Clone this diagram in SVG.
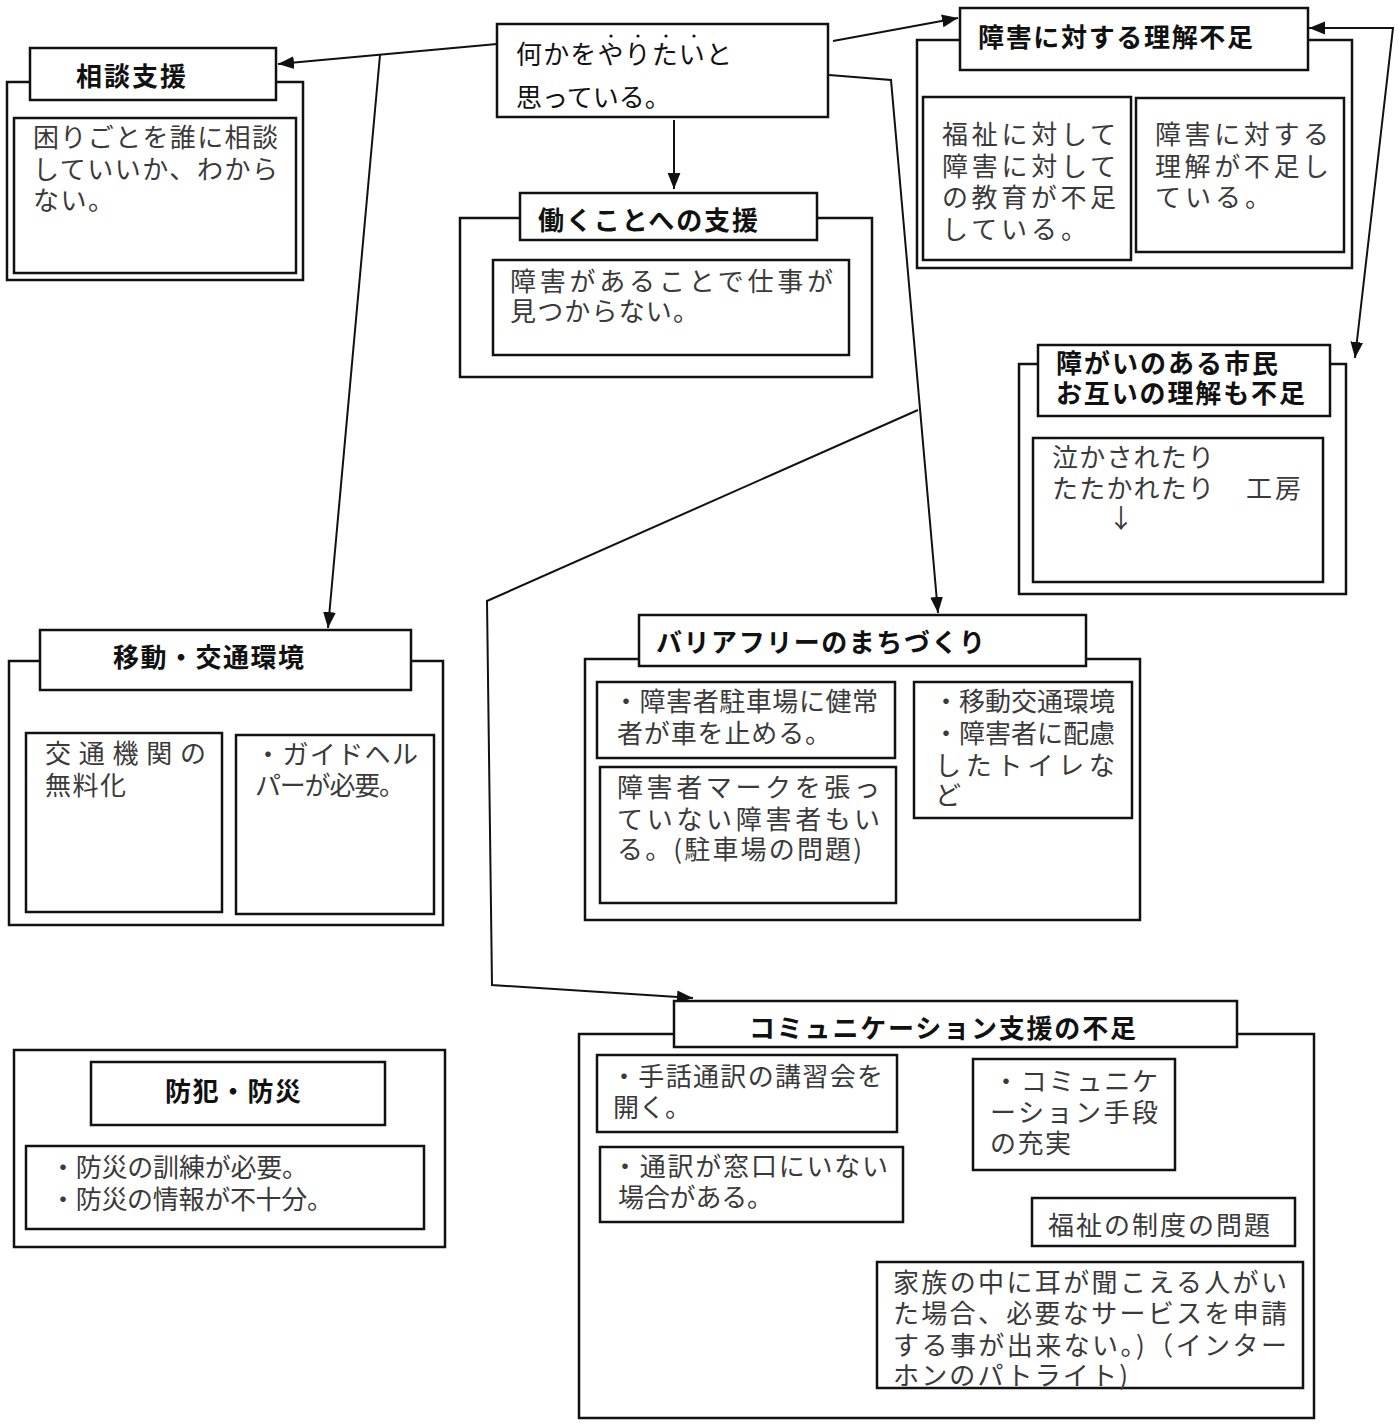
<svg xmlns="http://www.w3.org/2000/svg" width="1399" height="1427" viewBox="0 0 1399 1427">
<style>
.f{fill:#fff;stroke:#111;stroke-width:2.5}
.c{fill:none;stroke:#111;stroke-width:2}
text{font-family:"Noto Sans CJK JP","Noto Sans CJK SC",sans-serif;font-size:26px}
.t{font-weight:bold;fill:#111}
.b{fill:#3a3a3a}
.m{fill:#111}
</style>
<defs>
<marker id="ah" viewBox="0 0 10 10" refX="10" refY="5" markerWidth="9" markerHeight="9" markerUnits="userSpaceOnUse" orient="auto-start-reverse">
<path d="M0,0 L10,5 L0,10 z" fill="#111"/>
</marker>
<marker id="ahL" viewBox="0 0 10 10" refX="10" refY="5" markerWidth="16" markerHeight="16" markerUnits="userSpaceOnUse" orient="auto-start-reverse">
<path d="M0,1 L10,5 L0,9 z" fill="#111"/>
</marker>
</defs>
<rect width="1399" height="1427" fill="#fff"/>

<g id="connectors">
<line class="c" x1="497" y1="44" x2="278" y2="64" marker-end="url(#ahL)"/>
<line class="c" x1="380" y1="55" x2="328" y2="628" marker-end="url(#ahL)"/>
<line class="c" x1="674" y1="120" x2="674" y2="189" marker-end="url(#ahL)"/>
<line class="c" x1="833" y1="41" x2="958" y2="18" marker-end="url(#ahL)"/>
<polyline class="c" points="1309,28 1393,28 1355,358" marker-start="url(#ahL)" marker-end="url(#ahL)"/>
<polyline class="c" points="829,75 891,80 938,613" marker-end="url(#ahL)"/>
<polyline class="c" points="918,410 487,601 492,985 693,998" marker-end="url(#ahL)"/>
<line class="c" x1="1175" y1="1093" x2="1251" y2="1190" marker-end="url(#ahL)"/>
</g>

<g id="node-center">
<rect class="f" x="497" y="24" width="331" height="93"/>
<text class="m" x="516" y="64" textLength="216">何かをやりたいと</text>
<text class="m" x="516" y="107">思っている。</text>
<g fill="#111"><circle cx="611" cy="36" r="1.6"/><circle cx="638" cy="36" r="1.6"/><circle cx="666" cy="36" r="1.6"/><circle cx="694" cy="36" r="1.6"/></g>
</g>

<g id="node-soudan">
<rect class="f" x="7" y="82" width="296" height="198"/>
<rect class="f" x="30" y="48" width="246" height="52"/>
<text class="t" x="76" y="86" textLength="110">相談支援</text>
<rect class="f" x="14" y="118" width="282" height="155"/>
<text class="b" x="33" y="147" textLength="245">困りごとを誰に相談</text>
<text class="b" x="33" y="179" textLength="245">していいか、わから</text>
<text class="b" x="33" y="210" textLength="81">ない。</text>
</g>

<g id="node-hataraku">
<rect class="f" x="460" y="218" width="412" height="159"/>
<rect class="f" x="520" y="193" width="297" height="47"/>
<text class="t" x="538" y="230" textLength="220">働くことへの支援</text>
<rect class="f" x="493" y="260" width="356" height="95"/>
<text class="b" x="510" y="291" textLength="323">障害があることで仕事が</text>
<text class="b" x="510" y="321" textLength="189">見つからない。</text>
</g>

<g id="node-rikai">
<rect class="f" x="917" y="40" width="435" height="228"/>
<rect class="f" x="960" y="8" width="348" height="62"/>
<text class="t" x="978" y="47" textLength="275">障害に対する理解不足</text>
<rect class="f" x="923" y="97" width="208" height="163"/>
<text class="b" x="942" y="144" textLength="174">福祉に対して</text>
<text class="b" x="942" y="176" textLength="174">障害に対して</text>
<text class="b" x="942" y="207" textLength="174">の教育が不足</text>
<text class="b" x="942" y="239" textLength="145">している。</text>
<rect class="f" x="1136" y="98" width="208" height="154"/>
<text class="b" x="1155" y="144" textLength="174">障害に対する</text>
<text class="b" x="1155" y="176" textLength="174">理解が不足し</text>
<text class="b" x="1155" y="207" textLength="116">ている。</text>
</g>

<g id="node-shimin">
<rect class="f" x="1019" y="364" width="327" height="230"/>
<rect class="f" x="1038" y="345" width="292" height="71"/>
<text class="t" x="1056" y="373" textLength="222">障がいのある市民</text>
<text class="t" x="1056" y="403" textLength="249">お互いの理解も不足</text>
<rect class="f" x="1033" y="438" width="290" height="144"/>
<text class="b" x="1052" y="467" textLength="162">泣かされたり</text>
<text class="b" x="1052" y="498" textLength="162">たたかれたり</text>
<text class="b" x="1246" y="498" textLength="55">工房</text>
<text class="b" x="1108" y="528">↓</text>
</g>

<g id="node-idou">
<rect class="f" x="9" y="661" width="434" height="264"/>
<rect class="f" x="40" y="630" width="371" height="60"/>
<text class="t" x="113" y="667" textLength="191">移動・交通環境</text>
<rect class="f" x="26" y="733" width="196" height="179"/>
<text class="b" x="45" y="763" textLength="161">交通機関の</text>
<text class="b" x="45" y="795" textLength="81">無料化</text>
<rect class="f" x="236" y="735" width="198" height="179"/>
<text class="b" x="255" y="764" textLength="163">・ガイドヘル</text>
<text class="b" x="255" y="795" textLength="150">パーが必要。</text>
</g>

<g id="node-barrier">
<rect class="f" x="585" y="659" width="555" height="261"/>
<rect class="f" x="639" y="615" width="447" height="51"/>
<text class="t" x="656" y="652" textLength="329">バリアフリーのまちづくり</text>
<rect class="f" x="597" y="682" width="298" height="76"/>
<text class="b" x="613" y="711" textLength="265">・障害者駐車場に健常</text>
<text class="b" x="617" y="743" textLength="214">者が車を止める。</text>
<rect class="f" x="600" y="767" width="296" height="136"/>
<text class="b" x="617" y="797" textLength="263">障害者マークを張っ</text>
<text class="b" x="617" y="829" textLength="263">ていない障害者もい</text>
<text class="b" x="617" y="859" textLength="245">る。(駐車場の問題)</text>
<rect class="f" x="914" y="682" width="218" height="136"/>
<text class="b" x="933" y="711" textLength="182">・移動交通環境</text>
<text class="b" x="933" y="743" textLength="182">・障害者に配慮</text>
<text class="b" x="935" y="775" textLength="180">したトイレな</text>
<text class="b" x="935" y="805">ど</text>
</g>

<g id="node-comm">
<rect class="f" x="579" y="1034" width="735" height="384"/>
<rect class="f" x="674" y="1001" width="563" height="46"/>
<text class="t" x="749" y="1038" textLength="387">コミュニケーション支援の不足</text>
<rect class="f" x="597" y="1055" width="300" height="77"/>
<text class="b" x="611" y="1086" textLength="272">・手話通訳の講習会を</text>
<text class="b" x="613" y="1117" textLength="78">開く。</text>
<rect class="f" x="600" y="1147" width="303" height="75"/>
<text class="b" x="612" y="1176" textLength="276">・通訳が窓口にいない</text>
<text class="b" x="618" y="1207" textLength="155">場合がある。</text>
<rect class="f" x="973" y="1059" width="202" height="111"/>
<text class="b" x="993" y="1091" textLength="165">・コミュニケ</text>
<text class="b" x="990" y="1122" textLength="168">ーション手段</text>
<text class="b" x="990" y="1153" textLength="81">の充実</text>
<rect class="f" x="1032" y="1198" width="263" height="48"/>
<text class="b" x="1048" y="1235" textLength="222">福祉の制度の問題</text>
<rect class="f" x="877" y="1262" width="426" height="126"/>
<text class="b" x="893" y="1292" textLength="394">家族の中に耳が聞こえる人がい</text>
<text class="b" x="893" y="1323" textLength="394">た場合、必要なサービスを申請</text>
<text class="b" x="893" y="1355" textLength="394">する事が出来ない。)（インター</text>
<text class="b" x="893" y="1385" textLength="235">ホンのパトライト)</text>
</g>

<g id="node-bousai">
<rect class="f" x="14" y="1050" width="431" height="197"/>
<rect class="f" x="91" y="1062" width="294" height="63"/>
<text class="t" x="165" y="1101" textLength="136">防犯・防災</text>
<rect class="f" x="26" y="1146" width="398" height="83"/>
<text class="b" x="50" y="1177" textLength="258">・防災の訓練が必要。</text>
<text class="b" x="50" y="1209" textLength="283">・防災の情報が不十分。</text>
</g>
</svg>
